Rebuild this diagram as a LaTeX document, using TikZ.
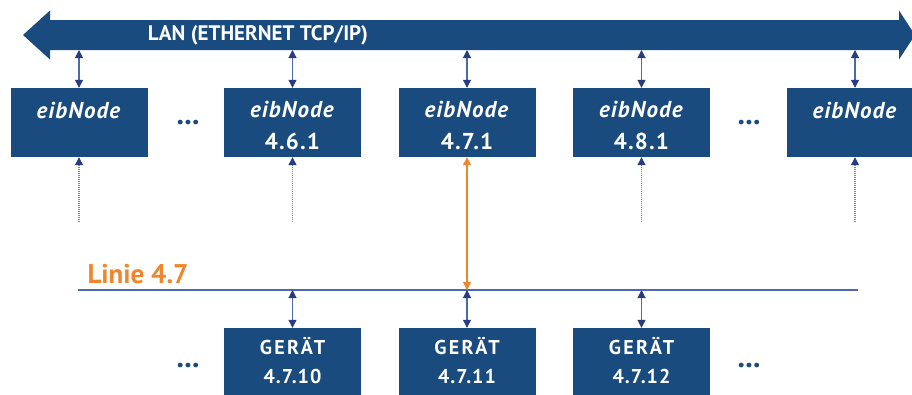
\documentclass[tikz,border=0pt]{standalone}
\usepackage{fontspec}
\setmainfont{PT Sans}
\newfontfamily\nodefont[LetterSpace=5]{PT Sans}
\usetikzlibrary{calc,arrows.meta}

\definecolor{eibblue}{HTML}{194B7E}
\definecolor{tipblue}{HTML}{283C84}
\definecolor{wireblue}{HTML}{4F66B0}
\definecolor{linieorange}{HTML}{F0862B}

\tikzset{
  eibbox/.style={fill=eibblue, text=white, inner sep=0pt, minimum width=137pt,
    minimum height=69pt, align=center, font=\nodefont\bfseries\fontsize{23}{32}\selectfont},
  geraetbox/.style={eibbox, font=\nodefont\bfseries\fontsize{20}{29}\selectfont},
  link/.style={draw=wireblue, line width=1.1pt,
    {Triangle[length=8pt,width=8pt,color=tipblue]}-{Triangle[length=8pt,width=8pt,color=tipblue]}},
  orangelink/.style={draw=linieorange, line width=1.1pt,
    {Triangle[length=8pt,width=8pt]}-{Triangle[length=8pt,width=8pt]}},
  uplink/.style={draw=wireblue!80, line width=1.2pt, dash pattern=on 1pt off 1pt,
    -{Triangle[length=8pt,width=8pt,color=tipblue]}},
  moredots/.style={text=eibblue, font=\bfseries\fontsize{30}{30}\selectfont},
}

\begin{document}
\begin{tikzpicture}[x=1pt,y=-1pt]
  \useasboundingbox (0,0) rectangle (912,394);

  %% LAN backbone
  \fill[eibblue] (23,35) -- (50,10.5) -- (50,20) -- (899,20) -- (899,10.5) -- (915,35)
    -- (899,59.5) -- (899,50) -- (50,50) -- (50,59.5) -- cycle;
  \node[text=white, font=\bfseries\fontsize{21}{21}\selectfont] (LAN) at (258,35) {LAN (ETHERNET TCP/IP)};
  \coordinate (LANB) at (0,50);

  %% eibNodes on the LAN
  \foreach \n/\x/\t in {1/79/\phantom{4},2/292.5/4.6.1,3/467/4.7.1,4/641.5/4.8.1,5/855/\phantom{4}}
  {
    \node[eibbox] (EN\n) at (\x,122.5) {\rule{0pt}{23pt}\textit{eibNode}\\\t};
    \draw[link] (EN\n.north |- LANB) -- (EN\n.north);
  }
  \foreach \n in {1,2,4,5}
  {
    \coordinate (DL\n) at ($(EN\n.south)+(0,65)$);
    \draw[uplink] (DL\n) -- (EN\n.south);
  }
  \node[moredots] (DOTS1) at (188,123) {...};
  \node[moredots] (DOTS2) at (749,123) {...};

  %% Linie 4.7
  \coordinate (LS) at (78,290);
  \coordinate (LE) at (858,290);
  \draw[wireblue, line width=1.3pt] (LS) -- (LE);
  \node[anchor=base west, text=linieorange, font=\bfseries\fontsize{27}{27}\selectfont]
    (LINIE) at (84,283) {Linie 4.7};
  \draw[orangelink] (EN3.south) -- (EN3.south |- LS);

  %% devices on the line
  \foreach \n/\x in {10/292.5,11/467,12/641.5}
  {
    \node[geraetbox] (GR\n) at (\x,362.5)
      {\rule{0pt}{20pt}{\addfontfeature{LetterSpace=12}GERÄT}\\\rule[-8pt]{0pt}{8pt}4.7.\n};
    \draw[link] (GR\n.north |- LS) -- (GR\n.north);
  }
  \node[moredots] (DOTS3) at (188,366) {...};
  \node[moredots] (DOTS4) at (749,366) {...};
\end{tikzpicture}
\end{document}
